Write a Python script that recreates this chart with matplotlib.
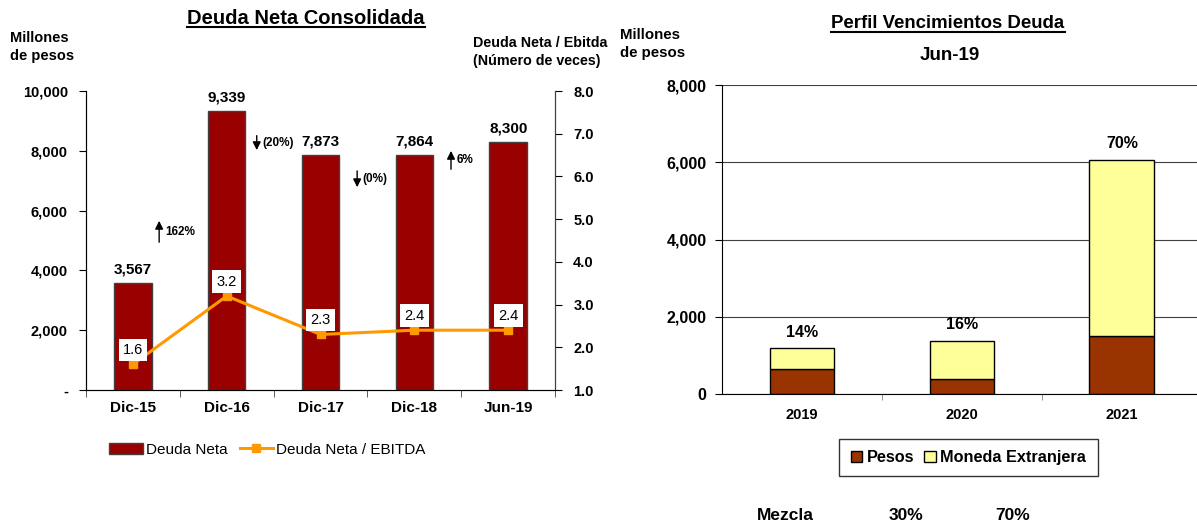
import matplotlib.pyplot as plt
from matplotlib.lines import Line2D
import numpy as np

plt.rcParams['font.family'] = ['Liberation Sans', 'DejaVu Sans']

# Left chart data
periodos = ['Dic-15', 'Dic-16', 'Dic-17', 'Dic-18', 'Jun-19']
deuda_neta = [3567, 9339, 7873, 7864, 8300]
deuda_ebitda = [1.6, 3.2, 2.3, 2.4, 2.4]
variaciones = ['162%', '(20%)', '(0%)', '6%']

# Right chart data
anios = ['2019', '2020', '2021']
pesos = [650, 390, 1510]
moneda_ext = [530, 990, 4560]
pct_total = ['14%', '16%', '70%']
mezcla = ['30%', '70%']

fig = plt.figure(figsize=(11.97, 5.23), dpi=100)

# ---------- left chart ----------
ax = fig.add_axes([0.0718, 0.2543, 0.392, 0.5717])
x = np.arange(len(periodos))
ax.bar(x, deuda_neta, width=0.4, color='#990000', edgecolor='#404040', linewidth=1, label='Deuda Neta', zorder=2)
ax.set_xlim(-0.5, len(periodos) - 0.5)
ax.set_ylim(0, 10000)
ax.set_yticks(range(0, 10001, 2000))
ax.set_yticklabels(['-'] + [f'{v:,}' for v in range(2000, 10001, 2000)], fontsize=10.5, fontweight='bold')
ax.set_xticks(x)
ax.set_xticklabels(periodos, fontsize=11, fontweight='bold')
ax.tick_params(axis='x', length=0, pad=8)
ax.set_xticks(np.arange(-0.5, len(periodos)), minor=True)
ax.tick_params(axis='x', which='minor', length=5, color='#404040')
ax.tick_params(axis='y', length=5, pad=8)
ax.spines['top'].set_visible(False)
for s in ['left', 'bottom', 'right']:
    ax.spines[s].set_color('#404040')
for xi, v in zip(x, deuda_neta):
    ax.text(xi, v + 220, f'{v:,}', ha='center', va='bottom', fontsize=11, fontweight='bold')

ax2 = ax.twinx()
ax2.plot(x, deuda_ebitda, color='#FF9900', marker='s', markersize=6, linewidth=2.2, label='Deuda Neta / EBITDA', zorder=3)
ax2.set_ylim(1.0, 8.0)
ax2.set_yticks(np.arange(1.0, 8.01, 1.0))
ax2.set_yticklabels([f'{v:.1f}' for v in np.arange(1.0, 8.01, 1.0)], fontsize=10.5, fontweight='bold')
ax2.tick_params(axis='y', length=5, pad=8)
ax2.spines['top'].set_visible(False)
ax2.spines['right'].set_color('#404040')
for xi, v in zip(x, deuda_ebitda):
    ax2.text(xi, v + 0.34, f'{v:.1f}', ha='center', va='center', fontsize=10.5,
             bbox=dict(facecolor='white', edgecolor='none', pad=3))

# variation arrows between bars
arrow_pos = [(0.28, 4850, 5750), (1.32, 8600, 7930), (2.39, 7420, 6690), (3.39, 7290, 8090)]
for (xa, y0, y1), txt in zip(arrow_pos, variaciones):
    ax.annotate('', xy=(xa, y1), xytext=(xa, y0),
                arrowprops=dict(arrowstyle='-|>', color='black', lw=1, mutation_scale=12))
    ax.text(xa + 0.06, (y0 + y1) / 2, txt, ha='left', va='center', fontsize=8.5, fontweight='bold')

h1, l1 = ax.get_legend_handles_labels()
h2, l2 = ax2.get_legend_handles_labels()
ax.legend(h1 + h2, l1 + l2, loc='upper left', bbox_to_anchor=(0.02, -0.13), ncol=2, frameon=False,
          fontsize=11, handlelength=2.2, handletextpad=0.2, columnspacing=0.8)

fig.text(10 / 1197, 1 - 47 / 523, 'Millones\nde pesos', ha='left', va='center', fontsize=10.5, fontweight='bold', linespacing=1.4)
fig.text(473 / 1197, 1 - 52 / 523, 'Deuda Neta / Ebitda\n(Número de veces)', ha='left', va='center', fontsize=10.3, fontweight='bold', linespacing=1.3)

# ---------- right chart ----------
bx = fig.add_axes([722 / 1197, 1 - 394 / 523, 475 / 1197, 309 / 523])
xr = np.arange(len(anios))
bx.bar(xr, pesos, width=0.405, color='#993300', edgecolor='black', linewidth=1, label='Pesos', zorder=2)
bx.bar(xr, moneda_ext, width=0.405, bottom=pesos, color='#FFFF99', edgecolor='black', linewidth=1,
       label='Moneda Extranjera', zorder=2)
bx.set_xlim(-0.5, 2.47)
bx.set_ylim(0, 8000)
bx.set_yticks(range(0, 8001, 2000))
bx.set_yticklabels([f'{v:,}' for v in range(0, 8001, 2000)], fontsize=11.5, fontweight='bold')
bx.yaxis.grid(True, color='#404040', linewidth=0.8, zorder=0)
bx.set_xticks(xr)
bx.set_xticklabels(anios, fontsize=10.5, fontweight='bold')
bx.tick_params(axis='x', length=0, pad=10)
bx.set_xticks(np.arange(0.5, len(anios) - 1), minor=True)
bx.tick_params(axis='x', which='minor', length=4, color='#808080')
bx.tick_params(axis='y', length=5, pad=6)
for s in ['top', 'right']:
    bx.spines[s].set_visible(False)
for xi, p, m, t in zip(xr, pesos, moneda_ext, pct_total):
    bx.text(xi, p + m + 220, t, ha='center', va='bottom', fontsize=11.5, fontweight='bold')

leg = bx.legend(loc='center', bbox_to_anchor=(0.519, -0.2055), ncol=2, frameon=True, fancybox=False,
                edgecolor='black', prop=dict(size=11.7, weight='bold'), handlelength=0.7, handleheight=0.7,
                handletextpad=0.3, columnspacing=0.6, borderpad=0.7)
leg.get_frame().set_linewidth(1)

fig.text(620 / 1197, 1 - 44 / 523, 'Millones\nde pesos', ha='left', va='center', fontsize=10.8, fontweight='bold', linespacing=1.3)
fig.text(950 / 1197, 1 - 55 / 523, 'Jun-19', ha='center', va='center', fontsize=13.5, fontweight='bold')
fig.text(785 / 1197, 1 - 516 / 523, 'Mezcla', ha='center', va='center', fontsize=12.5, fontweight='bold')
for xp, t in zip([906, 1013], mezcla):
    fig.text(xp / 1197, 1 - 516 / 523, t, ha='center', va='center', fontsize=12.5, fontweight='bold')

# underlined titles
titles = [('Deuda Neta Consolidada', 306, 18, 14.5), ('Perfil Vencimientos Deuda', 948, 24, 13.4)]
fig.canvas.draw()
renderer = fig.canvas.get_renderer()
for txt, xp, yp, fs in titles:
    t = fig.text(xp / 1197, 1 - yp / 523, txt, ha='center', va='center', fontsize=fs, fontweight='bold')
    bb = t.get_window_extent(renderer).transformed(fig.transFigure.inverted())
    fig.add_artist(Line2D([bb.x0, bb.x1], [bb.y0 + 0.001, bb.y0 + 0.001], color='black', linewidth=1.5))

fig.savefig('out.png', dpi=100)
